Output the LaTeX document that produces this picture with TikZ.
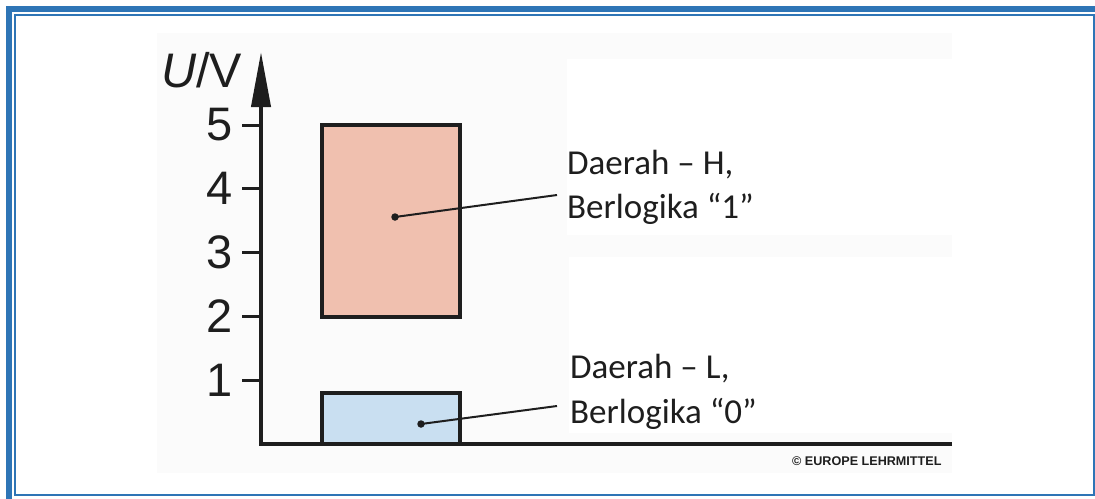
\documentclass[tikz,border=0pt]{standalone}
\usepackage{fontspec}
\setmainfont{Liberation Sans}
\newfontfamily\calfont{Carlito}
\usetikzlibrary{arrows.meta}
\definecolor{framebl}{RGB}{46,117,182}
\definecolor{hifill}{RGB}{240,192,175}
\definecolor{lofill}{RGB}{201,223,241}
\definecolor{ink}{RGB}{30,30,30}
\definecolor{bggray}{RGB}{251,251,251}
\tikzset{
  axisline/.style={line width=4pt, ink},
  tickline/.style={line width=3pt, ink},
  levelbox/.style={draw=ink, line width=4pt, minimum width=138pt, inner sep=0pt, outer sep=0pt},
  leader/.style={line width=2pt, ink},
  dotmark/.style={fill=ink, circle, inner sep=0pt, minimum size=7.5pt},
  ticklabel/.style={anchor=east, inner sep=0pt, text=ink, font=\fontsize{47}{54}\selectfont},
  desc/.style={anchor=base west, inner sep=0pt, text=ink, font=\calfont\fontsize{35}{40}\selectfont},
}
\begin{document}
\begin{tikzpicture}[x=1pt,y=-1pt]
\useasboundingbox (0,0) rectangle (1095,498);
% frame
\draw[framebl, line width=6.5pt] (9,9) rectangle (1110,510);
\draw[framebl, line width=2pt] (15,15) rectangle (1093.8,494.8);
% chart background
\fill[bggray] (157,33) rectangle (952,473);
\fill[white] (567,59) rectangle (952,235);
\fill[white] (569,257) rectangle (952,433);
% boxes
\node[levelbox, fill=hifill, minimum height=191.5pt] (hbox) at (390.5,220.75) {};
\node[levelbox, fill=lofill, minimum height=51pt] (lbox) at (390.5,418.5) {};
% axes
\coordinate (xend) at (952,444);
\coordinate (orig) at (261,444);
\coordinate (ytop) at (261,52);
\draw[axisline, -{Triangle[length=55pt,width=19pt]}] (xend) -- (orig) -- (ytop);
% ticks and labels
\foreach \v/\yy in {1/380,2/316.2,3/252.4,4/188.6,5/125}{
  \coordinate (t\v a) at (242,\yy);
  \coordinate (t\v b) at (261,\yy);
  \draw[tickline] (t\v a) -- (t\v b);
  \node[ticklabel] (n\v) at (233,\yy) {\v};
}
\node[anchor=base west, inner sep=0pt, text=ink, font=\fontsize{48.5}{54}\selectfont] (ulab) at (161,87) {\textit{U}/V};
% labels
\node[desc] (h1) at (567,174) {Daerah – H,};
\node[desc] (h2) at (567,218) {Berlogika “1”};
\node[desc] (l1) at (570,378) {Daerah – L,};
\node[desc] (l2) at (570,423) {Berlogika “0”};
% leaders
\node[dotmark] (hdot) at (395,217) {};
\node[dotmark] (ldot) at (421,424) {};
\coordinate (hend) at (557,195);
\coordinate (lend) at (557,406);
\draw[leader] (hdot.center) -- (hend);
\draw[leader] (ldot.center) -- (lend);
% copyright
\node[anchor=west, inner sep=0pt, text=ink, font=\bfseries\fontsize{12.6}{14}\selectfont] (copy) at (792,461) {© EUROPE LEHRMITTEL};
\end{tikzpicture}
\end{document}
